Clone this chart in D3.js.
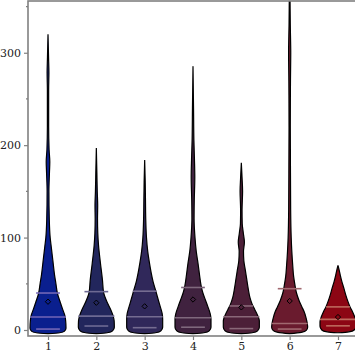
<!DOCTYPE html>
<html>
<head>
<meta charset="utf-8">
<script src="https://cdn.jsdelivr.net/npm/d3@7"></script>
<style>
    body { margin: 0; background: #ffffff; }
    .tick text { font-family: "DejaVu Serif", serif; font-size: 11px; fill: #222; }
</style>
</head>
<body>
<div id="chart"></div>
<script>
// categories and colours
const categories = [1, 2, 3, 4, 5, 6, 7];
const fills = ["#0a1f8e", "#22265c", "#30285a", "#40223f", "#4c1f38", "#6a1b2e", "#8c0614"];

// summary statistics
const q1Values = [1, 4.3, 2.5, 3, 1.5, 1, 4.5];
const medianValues = [14, 15, 14.4, 13.3, 14.4, 7, 11.5];
const q3Values = [40, 41.5, 42, 46, 26, 44.7, 25];
const meanValues = [30.6, 29.5, 25.6, 33, 24.5, 31.4, 14];

// violin outlines: [value, relative density]
const density1 = [[-4,0],[-3,0.65],[-1.5,0.9],[2,1],[10,0.98],[16,0.93],[22,0.82],[30,0.68],[40,0.52],[50,0.44],[60,0.36],[75,0.27],[90,0.18],[100,0.12],[120,0.07],[150,0.05],[170,0.08],[182,0.1],[195,0.06],[220,0.035],[260,0.035],[278,0.05],[295,0.03],[320,0]];
const density2 = [[-4,0],[-3,0.6],[-1,0.9],[3,1],[10,0.99],[16,0.92],[22,0.8],[30,0.6],[41,0.4],[54,0.34],[72,0.23],[92,0.12],[105,0.08],[120,0.065],[135,0.075],[150,0.05],[170,0.03],[197,0]];
const density3 = [[-4,0],[-3,0.6],[-1,0.9],[3,1],[12,1],[18,0.97],[25,0.87],[33,0.75],[42,0.62],[52,0.47],[62,0.36],[72,0.27],[85,0.17],[100,0.1],[120,0.06],[140,0.045],[160,0.03],[184,0]];
const density4 = [[-4,0],[-3,0.6],[-1,0.9],[3,1],[12,1],[18,0.95],[25,0.83],[32,0.7],[40,0.55],[48,0.45],[60,0.36],[72,0.28],[85,0.18],[100,0.11],[120,0.06],[140,0.07],[165,0.1],[185,0.08],[205,0.05],[240,0.03],[285,0]];
const density5 = [[-4,0],[-3,0.6],[-1,0.9],[3,1],[10,1],[16,0.9],[22,0.75],[28,0.6],[35,0.48],[45,0.38],[55,0.3],[65,0.22],[75,0.14],[85,0.12],[95,0.17],[105,0.11],[115,0.05],[130,0.04],[150,0.07],[165,0.04],[181,0]];
const density6 = [[-4,0],[-2.5,0.65],[-0.5,0.92],[3,1],[8,0.97],[14,0.9],[20,0.8],[25,0.68],[32,0.52],[40,0.38],[48,0.3],[58,0.22],[70,0.17],[85,0.12],[100,0.085],[130,0.055],[170,0.045],[220,0.035],[270,0.045],[300,0.06],[330,0.035],[360,0.02]];
const density7 = [[-3,0],[-2,0.6],[0,0.9],[4,1],[9,1],[14,0.93],[20,0.8],[25,0.67],[32,0.53],[38,0.43],[45,0.33],[52,0.22],[60,0.12],[66,0.05],[70,0]];
const densities = [density1, density2, density3, density4, density5, density6, density7];

// axis ticks
const yMajorTicks = [0, 100, 200, 300];
const yMinorTicks = [50, 150, 250, 350];

const width = 355, height = 355;
const plot = {left: 28, top: 1, right: 358, bottom: 336};

const svg = d3.select("#chart").append("svg")
    .attr("width", width)
    .attr("height", height);

const x = d3.scaleLinear().domain([0.586, 7.414]).range([plot.left, plot.right]);
const y = d3.scaleLinear().domain([-6.5, 356]).range([plot.bottom, plot.top]);
const w = d3.scaleLinear().domain([0, 1]).range([0, 18]);

svg.append("defs").append("clipPath").attr("id", "plotClip")
    .append("rect")
    .attr("x", plot.left).attr("y", plot.top)
    .attr("width", plot.right - plot.left).attr("height", plot.bottom - plot.top);

const chart = svg.append("g").attr("clip-path", "url(#plotClip)");

const lineColor = c => d3.interpolateLab(c, "#ffffff")(0.35);

categories.forEach((cat, i) => {
    const cx = x(cat);
    const area = d3.area()
        .y(d => y(d[0]))
        .x0(d => cx - w(d[1]))
        .x1(d => cx + w(d[1]))
        .curve(d3.curveMonotoneY);

    const g = chart.append("g").attr("class", "violin");
    g.append("path")
        .attr("d", area(densities[i]))
        .attr("fill", fills[i])
        .attr("stroke", "#000")
        .attr("stroke-width", 1.2);

    // quartile lines (shorter) and median line (full width)
    const lines = [
        {v: q1Values[i], half: w(0.66)},
        {v: medianValues[i], half: w(1)},
        {v: q3Values[i], half: w(0.66)}
    ];
    g.selectAll("line.stat")
        .data(lines)
        .join("line")
        .attr("class", "stat")
        .attr("x1", d => cx - d.half)
        .attr("x2", d => cx + d.half)
        .attr("y1", d => y(d.v))
        .attr("y2", d => y(d.v))
        .attr("stroke", lineColor(fills[i]))
        .attr("stroke-width", 1.6);

    // mean marker
    g.append("path")
        .attr("d", d3.symbol(d3.symbolDiamond2, 18)())
        .attr("transform", `translate(${cx},${y(meanValues[i])})`)
        .attr("fill", fills[i])
        .attr("stroke", "#000")
        .attr("stroke-width", 1);
});

// frame
svg.append("rect")
    .attr("x", plot.left).attr("y", plot.top)
    .attr("width", plot.right - plot.left).attr("height", plot.bottom - plot.top)
    .attr("fill", "none")
    .attr("stroke", "#808080")
    .attr("stroke-width", 1.6);

// y axis
const yAxisG = svg.append("g")
    .attr("transform", `translate(${plot.left},0)`)
    .call(d3.axisLeft(y).tickValues(yMajorTicks).tickSize(4).tickPadding(3));
yAxisG.select(".domain").remove();
yAxisG.selectAll(".tick line").attr("stroke", "#808080").attr("stroke-width", 1.2);

svg.append("g")
    .selectAll("line")
    .data(yMinorTicks)
    .join("line")
    .attr("x1", plot.left - 2).attr("x2", plot.left)
    .attr("y1", d => y(d)).attr("y2", d => y(d))
    .attr("stroke", "#808080").attr("stroke-width", 1.2);

// x axis
const xAxisG = svg.append("g")
    .attr("transform", `translate(0,${plot.bottom})`)
    .call(d3.axisBottom(x).tickValues(categories).tickFormat(d3.format("d")).tickSize(4).tickPadding(2));
xAxisG.select(".domain").remove();
xAxisG.selectAll(".tick line").attr("stroke", "#808080").attr("stroke-width", 1.2);
</script>
</body>
</html>
